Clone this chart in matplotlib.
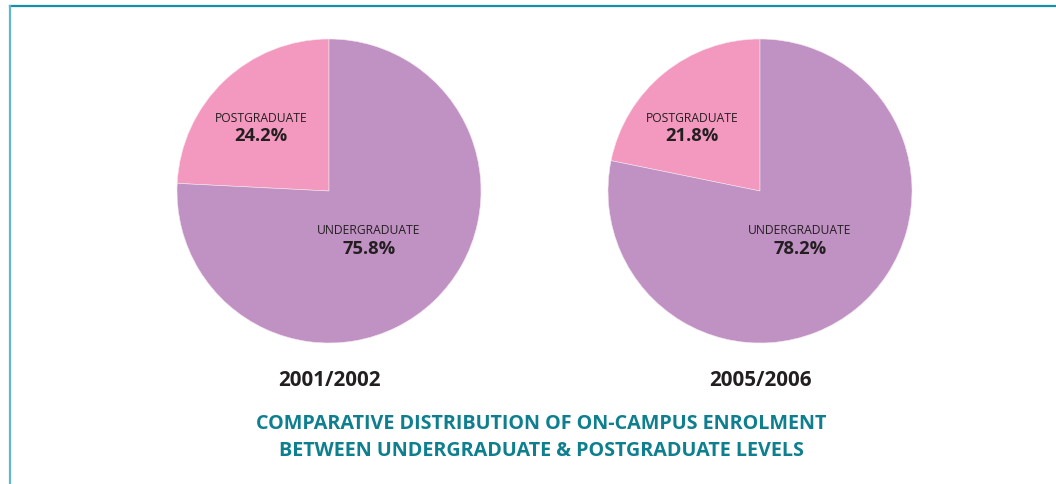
import matplotlib
matplotlib.use("Agg")
import matplotlib.pyplot as plt
from matplotlib.lines import Line2D

years = ["2001/2002", "2005/2006"]
categories = ["POSTGRADUATE", "UNDERGRADUATE"]
postgrad = [24.2, 21.8]
undergrad = [75.8, 78.2]
colors = ["#F398BF", "#C091C3"]
title_lines = ["COMPARATIVE DISTRIBUTION OF ON-CAMPUS ENROLMENT",
               "BETWEEN UNDERGRADUATE & POSTGRADUATE LEVELS"]

W, H = 1056, 484
fig = plt.figure(figsize=(W / 100, H / 100), dpi=100)
plt.rcParams['font.family'] = ['Open Sans', 'DejaVu Sans']

def px(x, y):
    return x / W, 1 - y / H

# border lines
fig.add_artist(Line2D([10 / W, 1], [1 - 6 / H, 1 - 6 / H], color="#1590A8", lw=1.6))
fig.add_artist(Line2D([10 / W, 10 / W], [1 - 6 / H, 0], color="#5FB9C9", lw=1.6))

centers = [329, 760]
cy = 191
R = 152
for i, cx in enumerate(centers):
    ax = fig.add_axes([(cx - R) / W, (H - cy - R) / H, 2 * R / W, 2 * R / H])
    ax.pie([postgrad[i], undergrad[i]], colors=colors, startangle=90,
           counterclock=True, radius=1.0,
           wedgeprops=dict(linewidth=0.4, edgecolor="#f6e6ef"))
    ax.set_xlim(-1, 1)
    ax.set_ylim(-1, 1)
    ax.set_aspect('auto')
    ax.axis('off')

    # labels
    x, y = px(cx - 68, 118)
    fig.text(x, y, categories[0], ha='center', va='center', fontsize=8.7, color="#231f20")
    x, y = px(cx - 68, 136)
    fig.text(x, y, f"{postgrad[i]:.1f}%", ha='center', va='center', fontsize=13.2,
             fontweight='bold', color="#231f20")
    x, y = px(cx + 40, 231)
    fig.text(x, y, categories[1], ha='center', va='center', fontsize=8.7, color="#231f20")
    x, y = px(cx + 40, 249)
    fig.text(x, y, f"{undergrad[i]:.1f}%", ha='center', va='center', fontsize=13.2,
             fontweight='bold', color="#231f20")
    x, y = px(cx, 380)
    fig.text(x, y, years[i], ha='center', va='center', fontsize=14.8,
             fontweight='bold', color="#231f20")

for j, line in enumerate(title_lines):
    x, y = px(541, 424 + 27 * j)
    fig.text(x, y, line, ha='center', va='center', fontsize=14.2,
             fontweight='bold', color="#0E7F8F")

fig.savefig("out.png", dpi=100, facecolor="white")
